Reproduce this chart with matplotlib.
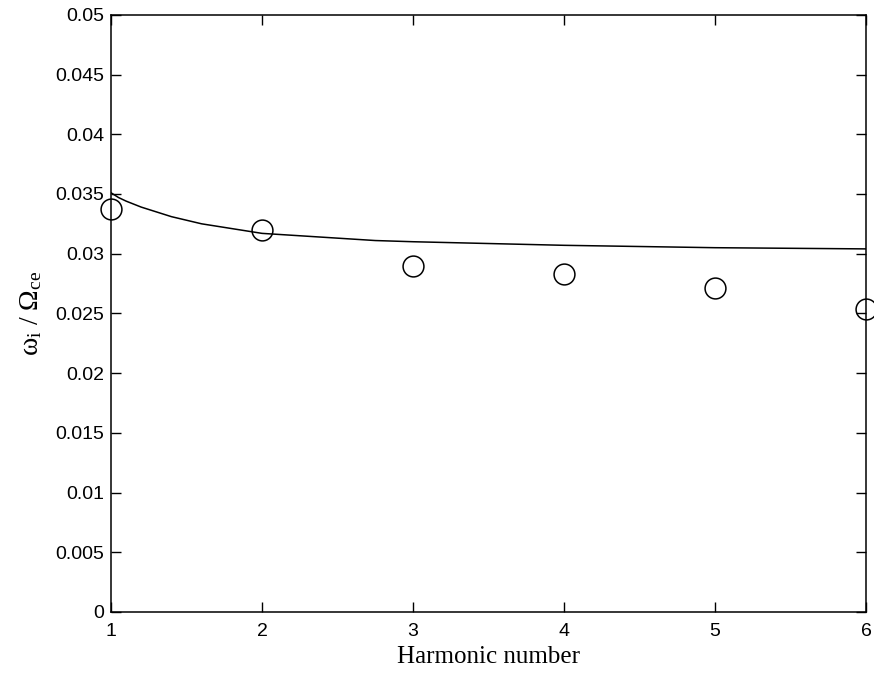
#!/usr/bin/env python3
"""Growth rate vs harmonic number: model curve and measured points."""
import matplotlib

matplotlib.use("Agg")
import matplotlib.pyplot as plt

# model curve
curve_h = [1.0, 1.05, 1.1, 1.2, 1.3, 1.4, 1.5, 1.6, 1.7, 1.8, 1.9, 2.0,
           2.25, 2.5, 2.75, 3.0, 3.5, 4.0, 4.5, 5.0, 5.5, 6.0]
curve_w = [0.0351, 0.0347, 0.0344, 0.0339, 0.0335, 0.0331, 0.0328, 0.0325,
           0.0323, 0.0321, 0.0319, 0.0317, 0.0315, 0.0313, 0.0311, 0.0310,
           0.03085, 0.0307, 0.0306, 0.0305, 0.03045, 0.0304]

# measured points
harm = [1, 2, 3, 4, 5, 6]
growth = [0.0337, 0.0320, 0.0290, 0.0283, 0.0271, 0.0254]

xticks = [1, 2, 3, 4, 5, 6]
yticks = [0, 0.005, 0.01, 0.015, 0.02, 0.025, 0.03, 0.035, 0.04, 0.045, 0.05]
yticklabels = ["0", "0.005", "0.01", "0.015", "0.02", "0.025", "0.03",
               "0.035", "0.04", "0.045", "0.05"]

plt.rcParams["mathtext.fontset"] = "custom"
plt.rcParams["mathtext.rm"] = "Liberation Serif"
plt.rcParams["mathtext.it"] = "Liberation Serif:italic"

fig = plt.figure(figsize=(8.74, 6.79), dpi=100)
ax = fig.add_axes([0.127, 0.0987, 0.864, 0.8795])

ax.plot(curve_h, curve_w, color="black", linewidth=1.1)
ax.plot(harm, growth, linestyle="none", marker="o", markersize=15,
        markerfacecolor="none", markeredgecolor="black", markeredgewidth=1.1,
        clip_on=False, zorder=3)

ax.set_xlim(1, 6)
ax.set_ylim(0, 0.05)
ax.set_xticks(xticks)
ax.set_yticks(yticks)
ax.set_yticklabels(yticklabels)
ax.tick_params(direction="in", length=7, width=1, top=True, right=True,
               labelsize=14)
ax.tick_params(axis="y", pad=5)
ax.tick_params(axis="x", pad=8)
for lab in ax.get_xticklabels() + ax.get_yticklabels():
    lab.set_family("Liberation Sans")
for sp in ax.spines.values():
    sp.set_linewidth(1.1)

ax.set_xlabel("Harmonic number", family="Liberation Serif", fontsize=18, labelpad=4)
ax.set_ylabel(r"$\mathrm{\omega_{i}}\ /\ \mathrm{\Omega_{ce}}$",
              fontsize=20, labelpad=8)

fig.savefig("out.png", dpi=100)
